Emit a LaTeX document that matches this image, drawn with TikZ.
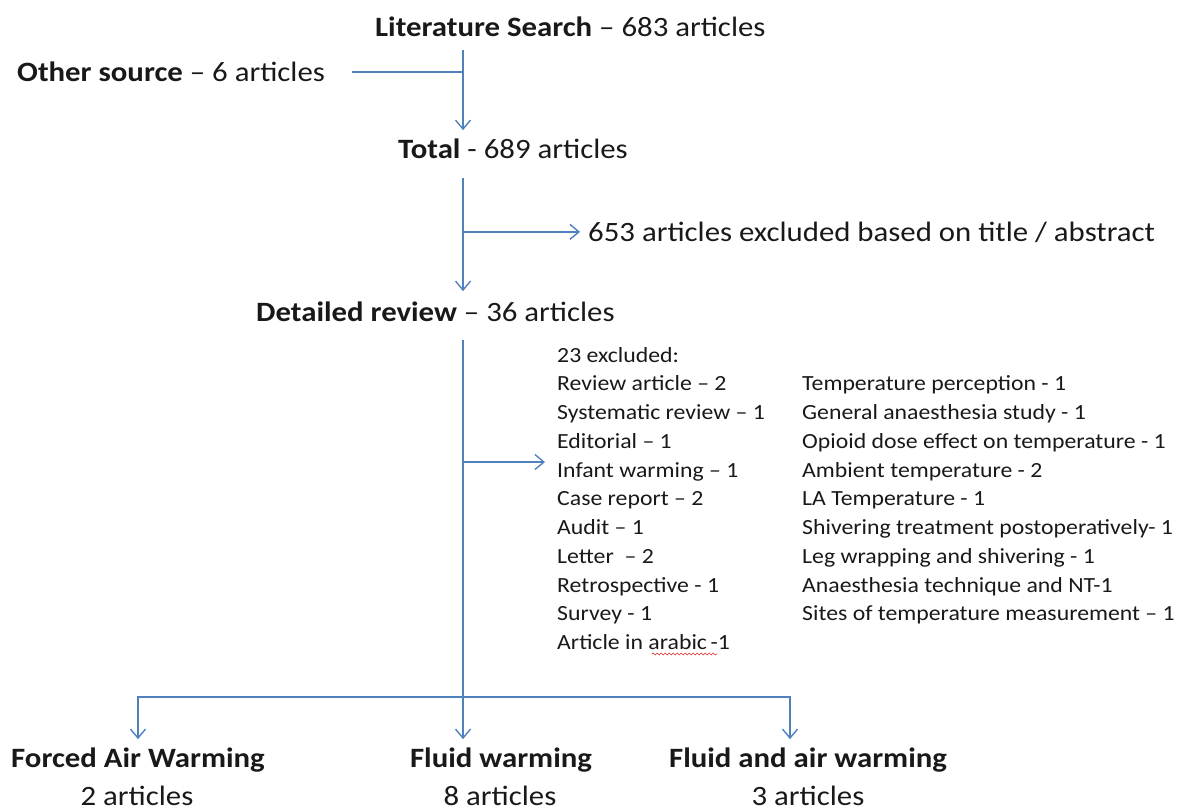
\documentclass[tikz,border=0pt]{standalone}
\usepackage{fontspec}
\setmainfont{Carlito}[FakeStretch=1.1]
\usetikzlibrary{arrows.meta,decorations.pathmorphing}
\definecolor{lineblue}{RGB}{79,129,189}
\definecolor{txt}{RGB}{25,25,25}
\definecolor{squig}{RGB}{220,40,40}
\begin{document}
\begin{tikzpicture}[x=1pt,y=-1pt,
  conn/.style={draw=lineblue,line width=1.6pt},
  arr/.style={conn,-{Straight Barb[length=9pt,width=15pt,line width=1.4pt]}},
  big/.style={font=\fontsize{28}{32}\selectfont,text=txt,inner sep=0pt,anchor=base west},
  bigc/.style={font=\fontsize{28}{32}\selectfont,text=txt,inner sep=0pt,anchor=base},
  small/.style={font=\fontsize{21.6}{24}\selectfont,text=txt,inner sep=0pt,anchor=base west},
]
\useasboundingbox (0,0) rectangle (1182,811);
\coordinate (spine) at (463,0);

\node[big] (lit) at (375,36) {\textbf{Literature Search} – 683 articles};
\node[big] (oth) at (17,81) {\textbf{Other source} – 6 articles};
\node[big] (tot) at (398,158) {\textbf{Total} - 689 articles};
\node[big] (exc) at (588,241) {653 articles excluded based on title / abstract};
\node[big] (det) at (256,321) {\textbf{Detailed review} – 36 articles};

\foreach \t [count=\i from 0] in {23 excluded:,Review article – 2,Systematic review – 1,Editorial – 1,Infant warming – 1,Case report – 2,Audit – 1,Letter~ – 2,Retrospective - 1,Survey - 1,Article in arabic\,-1}
  \node[small] (l\i) at (557,362+\i*28.75) {\t};
\foreach \t [count=\i from 1] in {Temperature perception - 1,General anaesthesia study - 1,Opioid dose effect on temperature - 1,Ambient temperature - 2,LA Temperature - 1,Shivering treatment postoperatively- 1,Leg wrapping and shivering - 1,Anaesthesia technique and NT-1,Sites of temperature measurement – 1}
  \node[small] (r\i) at (802,362+\i*28.75) {\t};

\node[bigc] (faw) at (138,767) {\textbf{Forced Air Warming}};
\node[bigc] (faw2) at (137,805) {2 articles};
\node[bigc] (flw) at (501,767) {\textbf{Fluid warming}};
\node[bigc] (flw2) at (500,805) {8 articles};
\node[bigc] (faa) at (808,767) {\textbf{Fluid and air warming}};
\node[bigc] (faa2) at (808,805) {3 articles};

% connectors
\coordinate (s1) at (463,50);
\coordinate (o1) at (352,72);
\draw[conn] (o1) -- (o1 -| spine);
\draw[arr] (s1) -- ([yshift=8pt]tot.north -| spine);
\coordinate (s2) at (463,178);
\draw[arr] (s2) -- ([yshift=10pt]det.north -| spine);
\draw[arr] (spine |- exc.west) -- ([xshift=-8pt]exc.west);
\coordinate (s3) at (463,340);
\coordinate (bar) at (463,697);
\draw[arr] (s3) -- ([yshift=8pt]flw.north -| spine);
\draw[arr] (463,462) coordinate (b4) -- ([xshift=-12pt]l4.west |- b4);
\draw[arr] (bar) -| ([yshift=8pt]faw.north);
\draw[arr] (bar) -| ([yshift=8pt]flw.north -| 790,0);
\draw[squig,line width=0.6pt,decorate,decoration={snake,amplitude=1pt,segment length=4pt}] (652,654) -- (717,654);
\end{tikzpicture}
\end{document}
